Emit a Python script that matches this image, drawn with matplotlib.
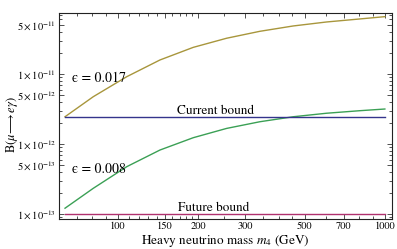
import numpy as np
import matplotlib
matplotlib.use('Agg')
import matplotlib.pyplot as plt
from matplotlib.ticker import FixedLocator, NullFormatter

plt.rcParams['font.family'] = 'STIXGeneral'
plt.rcParams['mathtext.fontset'] = 'stix'

# values (log-log plot)
mass = [63.3, 80.8, 107.8, 143.6, 191.4, 255.3, 340.2, 453.4, 604.7, 806.3, 1000]
b_eps017 = [2.45e-12, 4.74e-12, 9.14e-12, 1.585e-11, 2.40e-11, 3.24e-11,
            4.07e-11, 4.85e-11, 5.53e-11, 6.11e-11, 6.59e-11]
b_eps008 = [1.21e-13, 2.33e-13, 4.74e-13, 8.20e-13, 1.23e-12, 1.67e-12,
            2.08e-12, 2.45e-12, 2.75e-12, 2.99e-12, 3.16e-12]
current_bound = 2.45e-12
future_bound = 1.0e-13
bound_mass = [63.3, 1000]

xticks = [100, 150, 200, 300, 500, 700, 1000]
yticks = [1e-13, 5e-13, 1e-12, 5e-12, 1e-11, 5e-11]
ylabels = [r'$1\times10^{-13}$', r'$5\times10^{-13}$', r'$1\times10^{-12}$',
           r'$5\times10^{-12}$', r'$1\times10^{-11}$', r'$5\times10^{-11}$']

fig = plt.figure(figsize=(3.97, 2.49), dpi=100)
ax = fig.add_axes([0.1486, 0.1205, 0.8384, 0.8273])

ax.plot(mass, b_eps017, color='#a8963c', lw=1.0)
ax.plot(mass, b_eps008, color='#3ba055', lw=1.0)
ax.plot(bound_mass, [current_bound] * 2, color='#34348c', lw=1.0)
ax.plot(bound_mass, [future_bound] * 2, color='#b0306e', lw=1.0)

ax.set_xscale('log')
ax.set_yscale('log')
ax.set_xlim(60.1, 1062)
ax.set_ylim(8.49e-14, 7.43e-11)

ax.xaxis.set_major_locator(FixedLocator(xticks))
ax.set_xticklabels([str(t) for t in xticks])
ax.xaxis.set_minor_locator(FixedLocator([70, 80, 90, 110, 120, 130, 140, 160, 170, 180, 190,
                                         250, 350, 400, 450, 600, 800, 900]))
ax.xaxis.set_minor_formatter(NullFormatter())
ax.yaxis.set_major_locator(FixedLocator(yticks))
ax.set_yticklabels(ylabels)
ax.yaxis.set_minor_formatter(NullFormatter())

ax.tick_params(which='both', direction='in', top=True, right=True,
               labelsize=7.5, width=0.6, color='#333333', pad=2)
ax.tick_params(which='major', length=3.5)
ax.tick_params(which='minor', length=2)
for s in ax.spines.values():
    s.set_linewidth(0.8)
    s.set_color('#222222')

ax.text(67, 8.8e-12, '\u03f5 = 0.017', fontsize=10, va='center', ha='left')
ax.text(67, 4.4e-13, '\u03f5 = 0.008', fontsize=10, va='center', ha='left')
ax.text(166, 2.68e-12, 'Current bound', fontsize=9.5, va='baseline', ha='left')
ax.text(168, 1.12e-13, 'Future bound', fontsize=9.5, va='baseline', ha='left')

ax.set_xlabel(r'Heavy neutrino mass $m_4$ (GeV)', fontsize=9.5, labelpad=1)
ax.set_ylabel(r'B($\mu\!\longrightarrow e\gamma$)', fontsize=9)
ax.yaxis.set_label_coords(-0.118, 0.46)

fig.savefig('out.png', dpi=100)
